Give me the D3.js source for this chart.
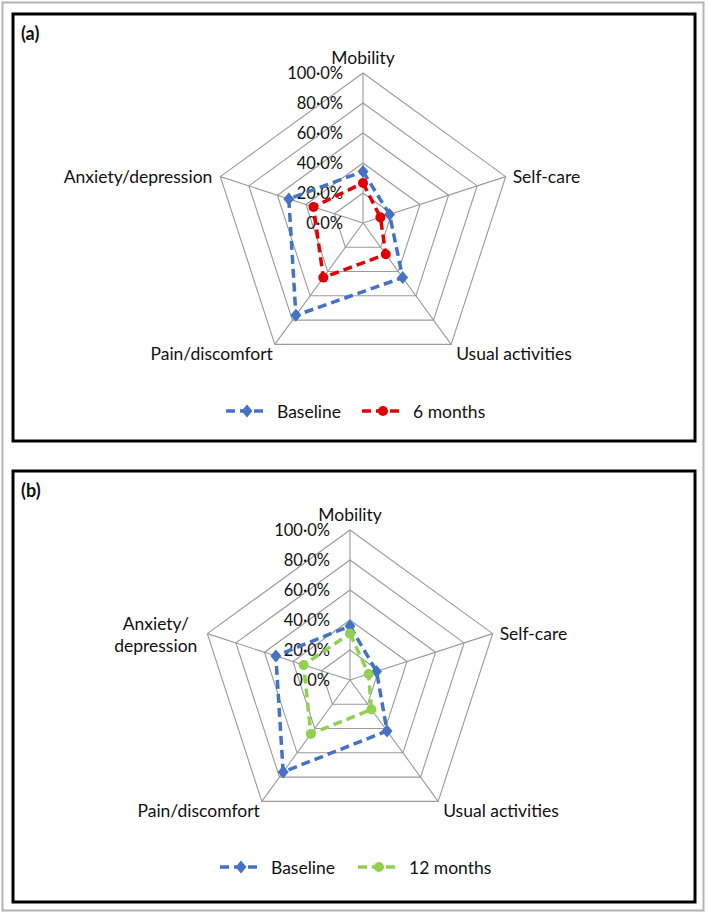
<!DOCTYPE html>
<html>
<head>
<meta charset="utf-8">
<script src="https://cdn.jsdelivr.net/npm/d3@7"></script>
<style>
  html, body { margin: 0; padding: 0; background: #fff; }
  svg { display: block; }
  text { font-family: Lato, "Open Sans", sans-serif; fill: #111; }
</style>
</head>
<body>
<svg id="chart" width="709" height="914"></svg>
<script>
// ---------- data ----------
const categories = ["Mobility", "Self-care", "Usual activities", "Pain/discomfort", "Anxiety/depression"];
const categoryLabelsB = ["Mobility", "Self-care", "Usual activities", "Pain/discomfort", "Anxiety/\ndepression"];
const tickValues = [0, 20, 40, 60, 80, 100];
const tickLabels = ["0·0%", "20·0%", "40·0%", "60·0%", "80·0%", "100·0%"];
const panelLetters = ["(a)", "(b)"];
const seriesNamesA = ["Baseline", "6 months"];
const seriesNamesB = ["Baseline", "12 months"];
const baselineA = [34.4, 18.6, 45.0, 76.1, 52.0];
const sixMonths = [26.7, 12.2, 25.8, 45.0, 34.7];
const baselineB = [36.0, 18.6, 42.0, 75.8, 52.0];
const twelveMonths = [31.0, 13.0, 24.3, 44.4, 32.5];

// ---------- styles ----------
const COLORS = { blue: "#4472C4", red: "#E00000", green: "#92D050", grid: "#9a9a9a" };

const svg = d3.select("#chart");

// outer light frame
svg.append("rect").attr("x", 2.5).attr("y", 2.5).attr("width", 701).attr("height", 908)
  .attr("fill", "none").attr("stroke", "#b4b4b4").attr("stroke-width", 2);

const R = 150;
const rScale = d3.scaleLinear().domain([0, 100]).range([0, R]);
const angleScale = d3.scalePoint().domain(d3.range(categories.length)).range([0, 2 * Math.PI * (categories.length - 1) / categories.length]);

function pt(i, v, cx, cy) {
  const a = angleScale(i);
  const r = rScale(v);
  return [cx + r * Math.sin(a), cy - r * Math.cos(a)];
}

const diamond = "M0,-6.5L5.5,0L0,6.5L-5.5,0Z";

function drawMarker(g, type, color, x, y) {
  if (type === "diamond") {
    g.append("path").attr("d", diamond).attr("transform", `translate(${x},${y})`).attr("fill", color);
  } else {
    g.append("circle").attr("cx", x).attr("cy", y).attr("r", 5).attr("fill", color);
  }
}

function drawPanel(opts) {
  const g = svg.append("g");
  // panel box
  g.append("rect").attr("x", opts.box[0]).attr("y", opts.box[1]).attr("width", opts.box[2]).attr("height", opts.box[3])
    .attr("fill", "#fff").attr("stroke", "#000").attr("stroke-width", 3);
  g.append("text").attr("x", opts.box[0] + 8).attr("y", opts.box[1] + 19)
    .attr("dominant-baseline", "central").attr("font-weight", "bold").attr("font-size", 18).text(opts.letter);

  const cx = opts.cx, cy = opts.cy;
  const n = categories.length;
  // grid rings
  tickValues.slice(1).forEach(v => {
    const pts = d3.range(n).map(i => pt(i, v, cx, cy));
    g.append("path").attr("d", d3.line()(pts) + "Z").attr("fill", "none")
      .attr("stroke", COLORS.grid).attr("stroke-width", 1.1);
  });
  // spokes
  d3.range(n).forEach(i => {
    const [x, y] = pt(i, 100, cx, cy);
    g.append("line").attr("x1", cx).attr("y1", cy).attr("x2", x).attr("y2", y)
      .attr("stroke", COLORS.grid).attr("stroke-width", 1.1);
  });
  // tick labels
  tickValues.forEach((v, k) => {
    g.append("text").attr("x", cx - 20).attr("y", cy - rScale(v))
      .attr("text-anchor", "end").attr("dominant-baseline", "central").attr("font-size", 16.5)
      .text(tickLabels[k]);
  });
  // category labels
  opts.labels.forEach((lab, i) => {
    const [vx, vy] = pt(i, 100, cx, cy);
    const lines = lab.split("\n");
    const t = g.append("text").attr("font-size", 17.5).attr("dominant-baseline", "central");
    if (i === 0) {
      t.attr("x", vx).attr("y", vy - 15.5).attr("text-anchor", "middle").text(lab);
    } else if (i === 1) {
      t.attr("x", vx + 7).attr("y", vy).attr("text-anchor", "start").text(lab);
    } else if (i === 2) {
      t.attr("x", vx + 5).attr("y", vy + 9).attr("text-anchor", "start").text(lab);
    } else if (i === 3) {
      t.attr("x", vx - 2).attr("y", vy + 9).attr("text-anchor", "end").text(lab);
    } else {
      if (lines.length === 1) {
        t.attr("x", vx - 8).attr("y", vy).attr("text-anchor", "end").text(lab);
      } else {
        t.attr("text-anchor", "middle");
        lines.forEach((ln, j) => {
          t.append("tspan").attr("x", 0).attr("y", vy + (j - (lines.length - 1) / 2) * 22).text(ln);
        });
        const w = t.node().getBBox().width;
        t.selectAll("tspan").attr("x", vx - 10 - w / 2);
      }
    }
  });
  // series
  opts.series.forEach(s => {
    const pts = s.values.map((v, i) => pt(i, v, cx, cy));
    g.append("path").attr("d", d3.line()(pts) + "Z").attr("fill", "none")
      .attr("stroke", s.color).attr("stroke-width", 3.5).attr("stroke-dasharray", "9,5")
      .attr("stroke-linejoin", "round");
    pts.forEach(p => drawMarker(g, s.marker, s.color, p[0], p[1]));
  });
  // legend
  opts.series.forEach((s, k) => {
    const lx = opts.legendX[k], ly = opts.legendY;
    g.append("line").attr("x1", lx).attr("y1", ly).attr("x2", lx + 41).attr("y2", ly)
      .attr("stroke", s.color).attr("stroke-width", 3.5).attr("stroke-dasharray", "9,5");
    drawMarker(g, s.marker, s.color, lx + 21, ly);
    g.append("text").attr("x", lx + 51).attr("y", ly).attr("dominant-baseline", "central")
      .attr("font-size", 17.5).text(s.name);
  });
}

drawPanel({
  box: [13, 14, 682, 427], letter: panelLetters[0], cx: 363, cy: 223, labels: categories,
  series: [
    { name: seriesNamesA[0], values: baselineA, color: COLORS.blue, marker: "diamond" },
    { name: seriesNamesA[1], values: sixMonths, color: COLORS.red, marker: "circle" }
  ],
  legendX: [226, 362], legendY: 411
});

drawPanel({
  box: [13, 471, 682, 431], letter: panelLetters[1], cx: 350, cy: 680, labels: categoryLabelsB,
  series: [
    { name: seriesNamesB[0], values: baselineB, color: COLORS.blue, marker: "diamond" },
    { name: seriesNamesB[1], values: twelveMonths, color: COLORS.green, marker: "circle" }
  ],
  legendX: [220, 358], legendY: 867
});
</script>
</body>
</html>
